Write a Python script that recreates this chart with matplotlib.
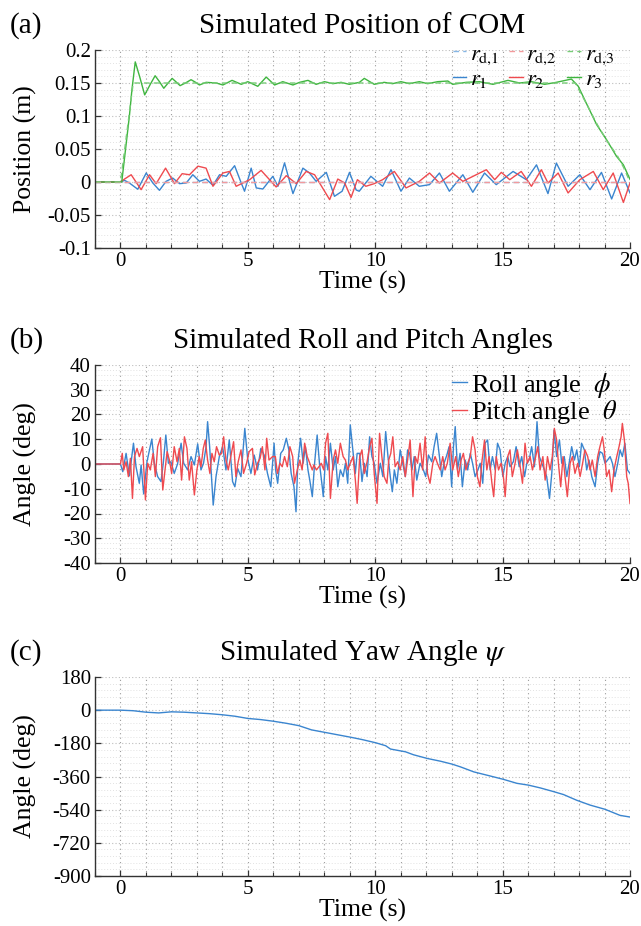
import matplotlib
matplotlib.use("Agg")
import matplotlib.pyplot as plt
from matplotlib.ticker import MultipleLocator, AutoMinorLocator, FuncFormatter

plt.rcParams['font.family'] = ['Liberation Serif', 'DejaVu Serif']
plt.rcParams['mathtext.fontset'] = 'stix'
plt.rcParams['axes.unicode_minus'] = False

# ---------------- Panel (a) data: COM position ----------------
t_rd12 = [-1, 20]
rd1 = [0, 0]
rd2 = [0, 0]
t_rd3 = [-1, 0, 0.5, 17.85, 18.3, 18.7, 19.1, 19.5, 19.75, 20.0]
rd3 = [0, 0, 0.15, 0.15, 0.118, 0.088, 0.062, 0.04, 0.022, 0.0]

t_r1 = [-1, 0, 0.16, 0.35, 0.68, 1.01, 1.27, 1.53, 1.79, 2.05, 2.32, 2.58, 2.84, 3.1, 3.36,
        3.63, 3.89, 4.15, 4.48, 4.74, 4.87, 5.13, 5.33, 5.59, 5.98, 6.18, 6.44, 6.77, 7.16,
        7.42, 7.68, 8.08, 8.40, 8.70, 8.99, 9.25, 9.37, 9.83, 10.29, 10.62, 11.01, 11.34,
        11.73, 12.13, 12.52, 12.91, 13.44, 13.83, 14.29, 14.75, 15.41, 15.93, 16.33, 16.78,
        17.11, 17.57, 18.03, 18.43, 18.88, 19.28, 19.67, 20.0]
r1 = [0, 0, 0.0025, -0.0015, -0.011, 0.0136, -0.0015, -0.0126, 0.001, 0.006, -0.0025, -0.0015,
      0.011, 0.001, 0.0045, -0.005, 0.011, 0.0086, 0.0247, -0.0015, -0.014, 0.021, -0.009,
      -0.0106, 0.0086, -0.0065, 0.029, -0.0176, 0.021, 0.0136, 0.001, 0.0146, -0.0217, -0.014,
      0.0146, -0.012, -0.014, 0.0086, -0.0065, 0.0186, -0.014, 0.006, -0.0065, -0.004, 0.0136,
      -0.014, 0.011, -0.0156, 0.0136, -0.004, 0.016, 0.0035, 0.026, -0.0176, 0.0287, -0.0065,
      0.011, -0.0116, 0.0146, -0.0257, 0.0136, -0.0166]

t_r2 = [-1, 0, 0.16, 0.42, 0.81, 1.14, 1.40, 1.77, 2.12, 2.42, 2.71, 3.04, 3.36, 3.63, 4.02,
        4.28, 4.54, 5.07, 5.52, 6.11, 6.51, 6.90, 7.29, 7.62, 8.21, 8.53, 8.80, 9.05, 9.30,
        9.63, 9.96, 10.29, 10.75, 11.21, 11.73, 12.13, 12.52, 13.04, 13.44, 14.36, 14.69,
        14.95, 15.28, 15.73, 16.13, 16.52, 16.78, 17.18, 17.57, 18.03, 18.56, 18.95, 19.34,
        19.74, 20.0]
r2 = [0, 0, 0.0045, 0.011, -0.0116, 0.011, -0.0025, 0.021, -0.0025, 0.0126, 0.011, 0.024,
      0.021, -0.0065, 0.0136, 0.016, -0.0065, 0.0035, 0.0176, -0.0075, 0.0096, -0.0025, 0.016,
      0.011, -0.0267, 0.0045, -0.0015, -0.0235, 0.0035, -0.0065, -0.0025, 0.0035, 0.016,
      -0.009, 0.001, 0.0136, -0.0015, 0.0136, 0.001, 0.0186, 0.0035, 0.0146, 0.0035, 0.016,
      -0.0065, 0.0186, -0.0015, 0.0136, -0.0166, 0.0035, 0.016, -0.0116, 0.0136, -0.031, -0.0015]

t_r3 = [-1, 0, 0.05, 0.2, 0.35, 0.45, 0.58, 0.75, 0.95, 1.17, 1.36, 1.53, 1.70, 1.87, 2.03,
        2.2, 2.34, 2.55, 2.77, 2.95, 3.1, 3.36, 3.76, 4.02, 4.38, 4.74, 5.0, 5.39, 5.72, 6.05,
        6.37, 6.77, 7.03, 7.36, 7.68, 8.01, 8.34, 8.66, 8.98, 9.38, 9.57, 9.96, 10.35, 10.68,
        11.01, 11.34, 11.73, 12.06, 12.45, 12.85, 13.04, 13.57, 14.09, 14.62, 15.21, 15.67,
        16.13, 16.65, 17.11, 17.70, 17.97, 18.29, 18.69, 19.08, 19.47, 19.74, 20.0]
r3 = [0, 0, 0.0, 0.05, 0.10, 0.14, 0.182, 0.16, 0.132, 0.148, 0.161, 0.152, 0.142, 0.150,
      0.157, 0.151, 0.146, 0.150, 0.155, 0.151, 0.147, 0.151, 0.150, 0.147, 0.154, 0.148,
      0.152, 0.145, 0.159, 0.147, 0.152, 0.147, 0.151, 0.154, 0.148, 0.152, 0.149, 0.151,
      0.148, 0.151, 0.157, 0.148, 0.151, 0.149, 0.152, 0.149, 0.152, 0.149, 0.152, 0.153,
      0.148, 0.151, 0.152, 0.148, 0.154, 0.150, 0.152, 0.148, 0.151, 0.156, 0.145, 0.119,
      0.087, 0.064, 0.039, 0.026, 0.004]

# ---------------- Panel (b) data: roll / pitch (deg) ----------------
t_roll = [-1, 0, 0.09, 0.22, 0.35, 0.51, 0.61, 0.74, 0.81, 0.91, 1.04, 1.15, 1.23, 1.33, 1.46,
          1.59, 1.68, 1.78, 1.88, 1.98, 2.11, 2.24, 2.38, 2.48, 2.64, 2.77, 2.90, 3.03, 3.16,
          3.26, 3.36, 3.42, 3.50, 3.58, 3.64, 3.75, 3.88, 4.01, 4.14, 4.27, 4.40, 4.49, 4.60,
          4.73, 4.88, 4.99, 5.12, 5.25, 5.38, 5.51, 5.64, 5.77, 5.90, 6.03, 6.09, 6.17, 6.29,
          6.39, 6.51, 6.61, 6.70, 6.81, 6.89, 6.96, 7.07, 7.17, 7.26, 7.36, 7.43, 7.53, 7.62,
          7.72, 7.81, 7.92, 7.96, 8.05, 8.14, 8.24, 8.35, 8.44, 8.53, 8.63, 8.74, 8.83, 8.92,
          9.02, 9.12, 9.22, 9.29, 9.39, 9.48, 9.57, 9.68, 9.78, 9.87, 9.96, 10.07, 10.20, 10.30,
          10.41, 10.50, 10.59, 10.67, 10.75, 10.85, 10.98, 11.08, 11.18, 11.27, 11.35, 11.44,
          11.53, 11.63, 11.76, 11.89, 11.98, 12.09, 12.22, 12.31, 12.41, 12.52, 12.61, 12.70,
          12.81, 12.90, 13.00, 13.07, 13.14, 13.23, 13.33, 13.42, 13.53, 13.63, 13.73, 13.82,
          13.92, 14.03, 14.12, 14.22, 14.31, 14.41, 14.51, 14.60, 14.71, 14.80, 14.90, 15.01,
          15.10, 15.20, 15.29, 15.42, 15.53, 15.65, 15.75, 15.86, 15.95, 16.04, 16.14, 16.25,
          16.35, 16.44, 16.54, 16.64, 16.73, 16.80, 16.84, 16.93, 17.02, 17.12, 17.23, 17.32,
          17.42, 17.52, 17.61, 17.71, 17.82, 17.91, 18.01, 18.10, 18.21, 18.30, 18.39, 18.50,
          18.63, 18.73, 18.82, 18.92, 19.02, 19.12, 19.22, 19.31, 19.41, 19.52, 19.61, 19.70,
          19.80, 19.90, 20.0]
roll = [0, 0, -3.1, 4.3, -4.8, 8.4, -1.1, -7.8, -0.4, -12.1, 0.9, 6.3, 10.1, 0.3, -5.1,
        -7.1, 0.3, 11.7, 0.3, 0.9, -3.8, 0.0, 8.4, 0.3, -2.4, 3.0, -0.4, 8.1, -2.4,
        0.3, 7.0, 17.1, 7.0, -6.5, -16.6, -5.1, 3.0, 7.0, -2.4, 9.7, -7.1, -9.2, -1.8,
        -5.1, 14.4, 2.3, -3.8, 3.6, -2.4, 6.3, 3.6, -3.8, -9.2, 8.4, -2.4, -7.8, 4.3,
        5.7, 10.4, 5.7, -3.8, -9.2, -19.3, 0.3, 10.4, 0.3, 7.0, -2.4, -6.5, -13.2, 0.3,
        11.7, 0.3, -9.2, -13.2, 3.0, -2.4, 8.4, -2.4, 3.0, -9.2, -2.4, -5.1, 0.3, -7.8,
        15.8, 5.7, -3.8, 4.3, 4.3, -7.1, 0.3, -5.1, 11.0, 3.0, 0.3, -7.8, 0.3, -5.1,
        13.1, 3.0, -5.1, -11.2, -2.4, -7.8, 5.7, 0.3, -5.1, 5.7, 4.3, -2.4,
        3.0, -6.5, 0.3, -2.4, -5.1, 3.6, 0.9, 7.0, 12.4, 3.0, -5.1, 0.3,
        3.6, 7.0, -9.2, 7.0, 15.1, -2.4, 4.3, -9.2, 1.6, -2.4, 4.3, 0.3,
        -5.1, -2.4, 0.3, -7.8, 8.4, 9.7, -2.4, 3.0, -2.4, 8.4, 5.7, -5.1,
        0.3, 3.0, -1.1, 0.9, 7.0, -1.1, 3.0, -5.1, 0.3, 1.6, 7.0, -1.1,
        17.1, 3.0, 0.3, -2.4, -5.1, -10.5, -13.9, -3.8, 13.7, 3.0, 9.7, 0.3,
        3.0, -5.1, 0.3, 7.0, 1.6, 5.7, -1.1, 8.4, 5.7, -2.4, 1.6, -5.1,
        -9.2, 0.3, 5.0, 4.3, 0.3, 1.6, 3.0, 0.3, -5.1, 0.3, 5.7, 3.0,
        8.4, -2.4, -3.8]

t_pitch = [-1, 0, 0.07, 0.13, 0.22, 0.31, 0.39, 0.47, 0.55, 0.65, 0.74, 0.87, 0.98, 1.07, 1.17,
           1.28, 1.37, 1.46, 1.57, 1.66, 1.75, 1.83, 1.92, 2.01, 2.11, 2.22, 2.31, 2.40, 2.51,
           2.61, 2.70, 2.79, 2.90, 3.00, 3.09, 3.16, 3.25, 3.33, 3.42, 3.51, 3.59, 3.68, 3.77,
           3.88, 3.97, 4.05, 4.14, 4.23, 4.33, 4.44, 4.53, 4.62, 4.73, 4.83, 4.95, 5.05, 5.18,
           5.27, 5.38, 5.48, 5.57, 5.67, 5.74, 5.83, 5.97, 6.08, 6.16, 6.26, 6.35, 6.44, 6.55,
           6.65, 6.76, 6.83, 6.94, 7.04, 7.13, 7.23, 7.33, 7.43, 7.53, 7.59, 7.69, 7.79, 7.88,
           7.98, 8.05, 8.14, 8.24, 8.35, 8.44, 8.53, 8.63, 8.74, 8.83, 8.92, 9.02, 9.13, 9.22,
           9.29, 9.39, 9.48, 9.57, 9.68, 9.78, 9.87, 9.96, 10.07, 10.17, 10.26, 10.35, 10.46,
           10.53, 10.61, 10.69, 10.78, 10.88, 10.98, 11.08, 11.18, 11.27, 11.37, 11.48, 11.57,
           11.66, 11.76, 11.86, 11.96, 12.05, 12.15, 12.26, 12.35, 12.44, 12.55, 12.65, 12.74,
           12.83, 12.94, 13.04, 13.16, 13.26, 13.37, 13.46, 13.56, 13.63, 13.73, 13.82, 13.92,
           14.01, 14.11, 14.18, 14.29, 14.38, 14.47, 14.58, 14.65, 14.75, 14.84, 14.94, 15.03,
           15.10, 15.20, 15.29, 15.38, 15.49, 15.58, 15.69, 15.78, 15.88, 15.97, 16.08, 16.17,
           16.27, 16.38, 16.47, 16.58, 16.67, 16.76, 16.86, 16.95, 17.03, 17.12, 17.19, 17.28,
           17.37, 17.45, 17.54, 17.65, 17.74, 17.84, 17.95, 18.04, 18.14, 18.23, 18.34, 18.43,
           18.52, 18.63, 18.73, 18.82, 18.92, 18.99, 19.08, 19.18, 19.28, 19.37, 19.48, 19.57,
           19.65, 19.70, 19.78, 19.87, 19.93, 20.0]
pitch = [0, 0, 4.3, -2.4, 0.9, -5.1, 2.3, -13.9, 3.0, 6.3, 3.0, 7.0, -14.5, 0.3, -2.4,
         4.3, -5.1, 7.0, 10.6, -10.5, -2.4, 5.0, 1.6, -3.8, 7.0, 0.9, 6.3, -6.5, 11.0,
         6.3, -6.5, 0.9, -12.5, -2.4, 3.0, -1.1, 6.3, 9.7, 1.6, -3.8, 4.3, 0.9, 7.0,
         3.6, 4.3, 11.0, 1.6, -2.4, 3.0, 9.0, -5.1, 0.9, 5.7, -3.8, 0.3, 5.0, 6.3,
         -4.4, 0.3, 2.3, 7.0, -2.4, 10.4, 1.6, 3.0, 3.0, -3.8, 0.3, -1.1, 3.0, -1.1,
         7.0, 3.0, -7.8, -2.4, 1.6, -2.4, 8.4, 3.0, 0.3, -2.4, -0.4, -2.4, -1.1, 0.3,
         -2.4, 8.4, 12.4, -13.9, 1.6, 5.7, 0.3, 8.4, 3.0, 1.6, -2.4, 0.3, 3.0, -6.5,
         -15.9, 3.0, 5.7, -3.8, 0.9, 7.0, 10.4, -3.8, -15.9, 12.4, 3.0, -5.1, -7.8,
         1.6, 4.3, 11.0, -1.1, 0.9, -2.4, 3.0, -5.1, 1.6, 9.7, -13.2, 3.0,
         0.3, 8.4, -2.4, 11.0, -3.8, -7.8, 0.3, 3.0, 0.3, -2.4, 3.0, -2.4,
         0.3, 8.4, -2.4, 3.0, -5.1, 1.6, 4.3, -2.4, 0.3, 3.0, 11.0, 5.7,
         -5.1, -9.2, 0.3, 9.7, -2.4, 3.0, -7.8, -13.2, 3.0, -2.4, 0.3, -5.1,
         -13.2, 3.0, 5.7, -5.1, 0.3, 5.7, -1.1, -7.8, 8.4, 0.3, 3.0, -2.4,
         1.6, 7.0, -2.4, 3.0, -6.5, 3.0, -2.4, 3.0, 14.4, 9.7, 0.3, -9.2,
         3.0, -5.1, -13.2, 0.3, 3.0, -3.8, 0.3, -5.1, 0.3, 5.7, 3.0, -2.4,
         1.6, -5.1, 3.0, 7.0, 11.0, 5.7, -5.1, -2.4, -11.2, -2.4, 3.0, 7.0,
         11.0, 16.4, 9.7, -5.1, -7.8, -15.9]

# ---------------- Panel (c) data: yaw (deg) ----------------
t_yaw = [-1, 0, 0.5, 1.0, 1.5, 2.0, 2.5, 3.0, 3.5, 4.0, 4.5, 5.0, 5.5, 6.0, 6.5, 7.0, 7.5, 8.0,
         8.5, 9.04, 9.5, 10.02, 10.41, 10.6, 11.19, 11.5, 12.04, 12.56, 13.02, 13.35, 13.87,
         14.39, 15.02, 15.56, 16.02, 16.48, 17.0, 17.39, 17.91, 18.43, 19.02, 19.61, 20.0]
yaw = [0, 0, -3, -11, -15, -9, -11, -15, -19, -25, -33, -45, -51, -60, -71, -84, -107, -120,
       -133, -147, -160, -177, -193, -211, -226, -242, -262, -277, -293, -308, -335,
       -353, -375, -397, -407, -422, -442, -458, -489, -515, -538, -571, -580]

# ---------------- styling ----------------
c_blue = '#3a85cf'
c_red = '#ef4a4f'
c_green = '#3fb53f'
c_blue_d = '#86b7e6'
c_red_d = '#f39a9c'
c_green_d = '#77cc77'

TITLE_FS = 21
LABEL_FS = 18.5
TICK_FS = 15

fig = plt.figure(figsize=(6.41, 9.26), dpi=100)
W, H = 641.0, 926.0
L, R = 95.0, 630.0
boxes = [(50.0, 248.0), (365.0, 563.0), (677.0, 876.0)]
axes = []
for top, bot in boxes:
    ax = fig.add_axes([L / W, 1 - bot / H, (R - L) / W, (bot - top) / H])
    axes.append(ax)


def style(ax, ylim, ymajor, panel, title, ylabel):
    ax.set_xlim(-1, 20)
    ax.set_ylim(*ylim)
    ax.xaxis.set_major_locator(MultipleLocator(5))
    ax.xaxis.set_minor_locator(MultipleLocator(1))
    ax.yaxis.set_major_locator(MultipleLocator(ymajor))
    ax.yaxis.set_minor_locator(AutoMinorLocator(5))
    ax.yaxis.set_major_formatter(FuncFormatter(lambda v, p: '%g' % round(v, 6)))
    for s in ['top', 'right']:
        ax.spines[s].set_visible(False)
    for s in ['left', 'bottom']:
        ax.spines[s].set_color('#333333')
        ax.spines[s].set_linewidth(1.0)
    ax.tick_params(axis='both', which='major', direction='in', length=4, width=0.9,
                   labelsize=TICK_FS, colors='#333333', labelcolor='black', pad=3)
    ax.tick_params(axis='x', which='minor', direction='in', length=3, width=0.8,
                   colors='#333333')
    ax.tick_params(axis='y', which='minor', length=0)
    ax.tick_params(axis='x', which='both', top=False)
    ax.tick_params(axis='y', which='both', right=False)
    ax.grid(True, axis='x', which='both', linestyle=(0, (1, 3)), color='#9a9a9a', linewidth=0.8)
    ax.grid(True, axis='y', which='major', linestyle=(0, (1, 2)), color='#bdbdbd', linewidth=0.8)
    ax.grid(True, axis='y', which='minor', linestyle=(0, (1, 2)), color='#e2e2e2', linewidth=0.7)
    ax.set_axisbelow(True)
    ax.set_title(title, fontsize=TITLE_FS, pad=12)
    ax.text(-0.159, 1.086, panel, transform=ax.transAxes, fontsize=TITLE_FS,
            ha='left', va='baseline')
    ax.set_xlabel('Time (s)', fontsize=LABEL_FS, labelpad=0)
    ax.set_ylabel(ylabel, fontsize=LABEL_FS)
    ax.yaxis.set_label_coords(-0.108, 0.5)


# Panel (a)
ax = axes[0]
style(ax, (-0.1, 0.2), 0.05, '(a)', 'Simulated Position of COM', 'Position (m)')
l_r1, = ax.plot(t_r1, r1, color=c_blue, lw=1.0, label=r'$r_1$')
l_r2, = ax.plot(t_r2, r2, color=c_red, lw=1.0, label=r'$r_2$')
l_r3, = ax.plot(t_r3, r3, color=c_green, lw=1.0, label=r'$r_3$')
l_d1, = ax.plot(t_rd12, rd1, color=c_blue_d, lw=1.0, ls=(0, (4, 3)),
                label=r'$r_{\mathrm{d}{,}1}$')
l_d2, = ax.plot(t_rd12, rd2, color=c_red_d, lw=1.0, ls=(0, (4, 3)),
                label=r'$r_{\mathrm{d}{,}2}$')
l_d3, = ax.plot(t_rd3, rd3, color=c_green_d, lw=1.0, ls=(0, (4, 3)),
                label=r'$r_{\mathrm{d}{,}3}$')
ax.legend(handles=[l_d1, l_r1, l_d2, l_r2, l_d3, l_r3], ncol=3, loc='upper left',
          bbox_to_anchor=(0.664, 1.045), frameon=False, fontsize=16.5, handlelength=0.6,
          handletextpad=0.15, columnspacing=0.45, labelspacing=0.1, borderpad=0.1,
          borderaxespad=0.0)

# Panel (b)
ax = axes[1]
style(ax, (-40, 40), 10, '(b)', 'Simulated Roll and Pitch Angles', 'Angle (deg)')
l_roll, = ax.plot(t_roll, roll, color=c_blue, lw=1.0, label=r'Roll angle  $\phi$')
l_pitch, = ax.plot(t_pitch, pitch, color=c_red, lw=1.0, label=r'Pitch angle  $\theta$')
ax.legend(handles=[l_roll, l_pitch], loc='upper right', bbox_to_anchor=(0.98, 0.985),
          frameon=False, fontsize=19, handlelength=0.55, handletextpad=0.15,
          labelspacing=-0.05, borderpad=0.1, borderaxespad=0.0)

# Panel (c)
ax = axes[2]
style(ax, (-900, 180), 180, '(c)', r'Simulated Yaw Angle $\psi$', 'Angle (deg)')
ax.plot(t_yaw, yaw, color=c_blue, lw=1.0)

fig.savefig('out.png', dpi=100)
